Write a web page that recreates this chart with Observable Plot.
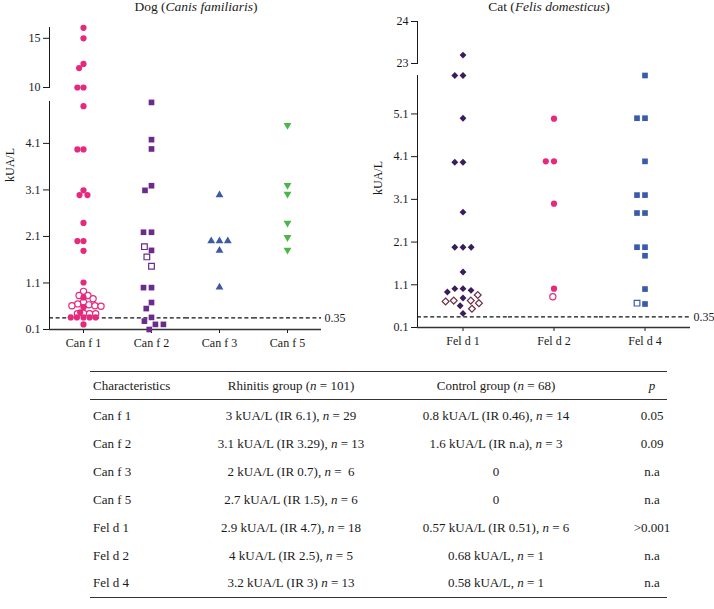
<!DOCTYPE html>
<html>
<head>
<meta charset="utf-8">
<script src="https://cdn.jsdelivr.net/npm/d3@7"></script>
<script src="https://cdn.jsdelivr.net/npm/@observablehq/plot@0.6"></script>
<style>
  body { margin: 0; background: #fff; }
  #wrap { position: relative; width: 714px; height: 609px; font-family: "Liberation Serif", "DejaVu Serif", serif; color: #1a1a1a; overflow: hidden; }
  .abs { position: absolute; white-space: pre; }
  .ctr { transform: translate(-50%, -50%); }
  .rule { position: absolute; height: 0; border-top: 1.2px solid #333; }
  svg { overflow: visible; }
</style>
</head>
<body>
<div id="wrap"></div>
<script>
// ---------- data ----------
const dogCategories = ["Can f 1", "Can f 2", "Can f 3", "Can f 5"];
const catCategories = ["Fel d 1", "Fel d 2", "Fel d 4"];
const dogLowerTicks = [0.1, 1.1, 2.1, 3.1, 4.1];
const dogUpperTicks = [10, 15];
const catLowerTicks = [0.1, 1.1, 2.1, 3.1, 4.1, 5.1];
const catUpperTicks = [23, 24];
const dogLowerDomain = [0.1, 5];
const dogUpperDomain = [10, 16.1];
const catLowerDomain = [0.1, 6];
const catUpperDomain = [23, 24];
const threshold = 0.35;

// kUA/L; rhinitis group = filled symbols, control group = open symbols
const canf1Rhinitis = [16.07, 15, 12.4, 11.97, 10, 10, 4.9, 3.97, 3.97, 3.09, 2.99, 2.99, 2.39, 2.0, 2.0, 1.79, 1.11, 0.79, 0.58, 0.47, 0.36, 0.36, 0.36, 0.36, 0.36, 0.21];
const canf1Control = [0.92, 0.83, 0.83, 0.76, 0.69, 0.65, 0.63, 0.61, 0.61, 0.6, 0.45, 0.44, 0.44, 0.44];
const canf2Rhinitis = [4.98, 4.18, 3.98, 3.19, 3.09, 2.19, 2.19, 1.8, 1.0, 1.0, 0.68, 0.55, 0.36, 0.28, 0.21, 0.21, 0.1];
const canf2Control = [1.88, 1.66, 1.46];
const canf3Rhinitis = [2.99, 2.0, 2.0, 2.0, 1.8, 1.01];
const canf3Control = [];
const canf5Rhinitis = [4.49, 3.2, 3.01, 2.39, 2.08, 1.81];
const canf5Control = [];
const feld1Rhinitis = [23.2, 6.0, 6.0, 5.0, 3.97, 3.97, 2.8, 1.98, 1.98, 1.98, 1.4, 1.01, 1.01, 0.97, 0.93, 0.79, 0.61, 0.43];
const feld1Control = [0.86, 0.73, 0.73, 0.71, 0.67, 0.54];
const feld2Rhinitis = [4.99, 3.99, 3.99, 3.0, 1.01];
const feld2Control = [0.82];
const feld4Rhinitis = [6.0, 5.0, 5.0, 3.99, 3.2, 3.2, 2.78, 2.78, 1.98, 1.98, 1.78, 1.0, 0.65];
const feld4Control = [0.67];

// table
const tableHeader = ["Characteristics", "Rhinitis group (n = 101)", "Control group (n = 68)", "p"];
const tableAllergens = ["Can f 1", "Can f 2", "Can f 3", "Can f 5", "Fel d 1", "Fel d 2", "Fel d 4"];
const rhinitisMedian = ["3 kUA/L (IR 6.1), n = 29", "3.1 kUA/L (IR 3.29), n = 13", "2 kUA/L (IR 0.7), n =  6", "2.7 kUA/L (IR 1.5), n = 6", "2.9 kUA/L (IR 4.7), n = 18", "4 kUA/L (IR 2.5), n = 5", "3.2 kUA/L (IR 3) n = 13"];
const controlMedian = ["0.8 kUA/L (IR 0.46), n = 14", "1.6 kUA/L (IR n.a), n = 3", "0", "0", "0.57 kUA/L (IR 0.51), n = 6", "0.68 kUA/L, n = 1", "0.58 kUA/L, n = 1"];
const pValues = ["0.05", "0.09", "n.a", "n.a", ">0.001", "n.a", "n.a"];

// ---------- build ----------
function rows(allergen, rh, ct) {
  return [
    ...rh.map(value => ({allergen, group: "Rhinitis", value})),
    ...ct.map(value => ({allergen, group: "Control", value}))
  ];
}
const triangleDown = {
  draw(context, size) {
    const sqrt3 = Math.sqrt(3);
    const y = -Math.sqrt(size / (sqrt3 * 3));
    context.moveTo(0, -y * 2);
    context.lineTo(-sqrt3 * y, y);
    context.lineTo(sqrt3 * y, y);
    context.closePath();
  }
};

const dogSeries = [
  {data: rows("Can f 1", canf1Rhinitis, canf1Control), symbol: "circle", color: "#e6297c", open: "#e6297c", r: 3.1, rc: 2.6, pad: 0.9, split: true},
  {data: rows("Can f 2", canf2Rhinitis, canf2Control), symbol: "square", color: "#6a2b8c", open: "#6a2b8c", r: 3.2, rc: 3.2, pad: 1.6},
  {data: rows("Can f 3", canf3Rhinitis, canf3Control), symbol: "triangle", color: "#3d5aa8", open: "#3d5aa8", r: 2.9, rc: 2.9, pad: 2.5},
  {data: rows("Can f 5", canf5Rhinitis, canf5Control), symbol: triangleDown, color: "#4bb749", open: "#4bb749", r: 2.9, rc: 2.9, pad: 2.5}
];
const catSeries = [
  {data: rows("Fel d 1", feld1Rhinitis, feld1Control), symbol: "diamond2", color: "#3a1d5c", open: "#6a2f45", r: 3.1, rc: 3.0, pad: 2.2},
  {data: rows("Fel d 2", feld2Rhinitis, feld2Control), symbol: "circle", color: "#e6297c", open: "#e6297c", r: 3.1, rc: 3.1, pad: 2},
  {data: rows("Fel d 4", feld4Rhinitis, feld4Control), symbol: "square", color: "#3a5aae", open: "#3a5aae", r: 3.2, rc: 3.2, pad: 1.6}
];

function swarmMark(s, data) {
  return Plot.dot(data, Plot.dodgeX({anchor: "middle", padding: s.pad, r: s.rc}, {
    fx: "allergen", y: "value", r: s.r, symbol: s.symbol,
    fill: d => d.group === "Rhinitis" ? s.color : "white",
    stroke: d => d.group === "Rhinitis" ? "none" : s.open,
    strokeWidth: 1.2
  }));
}
function swarms(series, [lo, hi]) {
  return series.flatMap(s => {
    const data = s.data.filter(d => d.value >= lo && d.value <= hi);
    if (!s.split) return [swarmMark(s, data)];
    // open (control) and filled (rhinitis) symbols arranged independently, overlapping as in the source
    return [
      swarmMark(s, data.filter(d => d.group === "Control")),
      swarmMark(s, data.filter(d => d.group === "Rhinitis"))
    ];
  });
}

const baseStyle = {fontFamily: "'Liberation Serif', serif", fontSize: "12px", background: "transparent", color: "#1a1a1a"};

function segment({cats, series, domain, ticks, width, marginLeft, marginRight, marginTop, marginBottom, height, lower}) {
  const marks = [];
  if (lower) {
    marks.push(Plot.ruleY([threshold], {stroke: "#111", strokeWidth: 1.2, strokeDasharray: "4,2.6"}));
    marks.push(Plot.ruleY([domain[0]], {stroke: "#333", strokeWidth: 1.3}));
    marks.push(Plot.text([threshold], {fx: () => cats[cats.length - 1], y: d => d, text: d => String(d), frameAnchor: "right", textAnchor: "start", dx: 3, fontSize: 12}));
  }
  marks.push(...swarms(series, domain));
  return Plot.plot({
    width, height, marginLeft, marginRight, marginTop, marginBottom,
    style: baseStyle,
    color: {type: "identity"},
    fx: lower
      ? {domain: cats, padding: 0, label: null, axis: "bottom", tickSize: 4, tickPadding: 5}
      : {domain: cats, padding: 0, axis: null},
    y: {domain, ticks, tickFormat: d => String(d), line: true, label: null, tickSize: 6, tickPadding: 3},
    marks
  });
}

const wrap = document.getElementById("wrap");
function place(node, left, top) {
  node.style.position = "absolute";
  node.style.left = left + "px";
  node.style.top = top + "px";
  wrap.appendChild(node);
}

// Dog panel
place(segment({cats: dogCategories, series: dogSeries, domain: dogUpperDomain, ticks: dogUpperTicks,
  width: 360, height: 72, marginLeft: 47, marginRight: 38, marginTop: 7, marginBottom: 5, lower: false}), 0, 20);
place(segment({cats: dogCategories, series: dogSeries, domain: dogLowerDomain, ticks: dogLowerTicks,
  width: 360, height: 260, marginLeft: 47, marginRight: 38, marginTop: 6, marginBottom: 26, lower: true}), 0, 95);
// Cat panel
place(segment({cats: catCategories, series: catSeries, domain: catUpperDomain, ticks: catUpperTicks,
  width: 354, height: 51, marginLeft: 57, marginRight: 24, marginTop: 7, marginBottom: 2, lower: false}), 360, 14);
place(segment({cats: catCategories, series: catSeries, domain: catLowerDomain, ticks: catLowerTicks,
  width: 354, height: 284, marginLeft: 57, marginRight: 24, marginTop: 6, marginBottom: 26, lower: true}), 360, 69);

function text(html, left, top, extra = "") {
  const d = document.createElement("div");
  d.className = "abs ctr";
  d.style.cssText += `left:${left}px;top:${top}px;${extra}`;
  d.innerHTML = html;
  wrap.appendChild(d);
  return d;
}
function italicN(s) { return s.replace(/\bn(?=\s*=)/g, "<i>n</i>").replace(/^p$/, "<i>p</i>"); }

// titles & y labels
text("Dog (<i>Canis familiaris</i>)", 196, 7, "font-size:13.5px;");
text("Cat (<i>Felis domesticus</i>)", 549, 7, "font-size:13.5px;");
text("kUA/L", 10, 165, "font-size:12px;transform:translate(-50%,-50%) rotate(-90deg);");
text("kUA/L", 378, 178, "font-size:12px;transform:translate(-50%,-50%) rotate(-90deg);");

// table
function rule(top) {
  const d = document.createElement("div");
  d.className = "rule";
  d.style.left = "90px"; d.style.width = "577px"; d.style.top = top + "px";
  wrap.appendChild(d);
}
rule(371); rule(399); rule(597);
const colX = [93, 291, 496, 652];
function row(cells, y) {
  cells.forEach((c, i) => {
    const d = text(italicN(c), colX[i], y, "font-size:13px;");
    if (i === 0) d.style.transform = "translate(0,-50%)";
  });
}
row(tableHeader, 386);
tableAllergens.forEach((a, i) => row([a, rhinitisMedian[i], controlMedian[i], pValues[i]], 416 + i * 27.9));
</script>
</body>
</html>
